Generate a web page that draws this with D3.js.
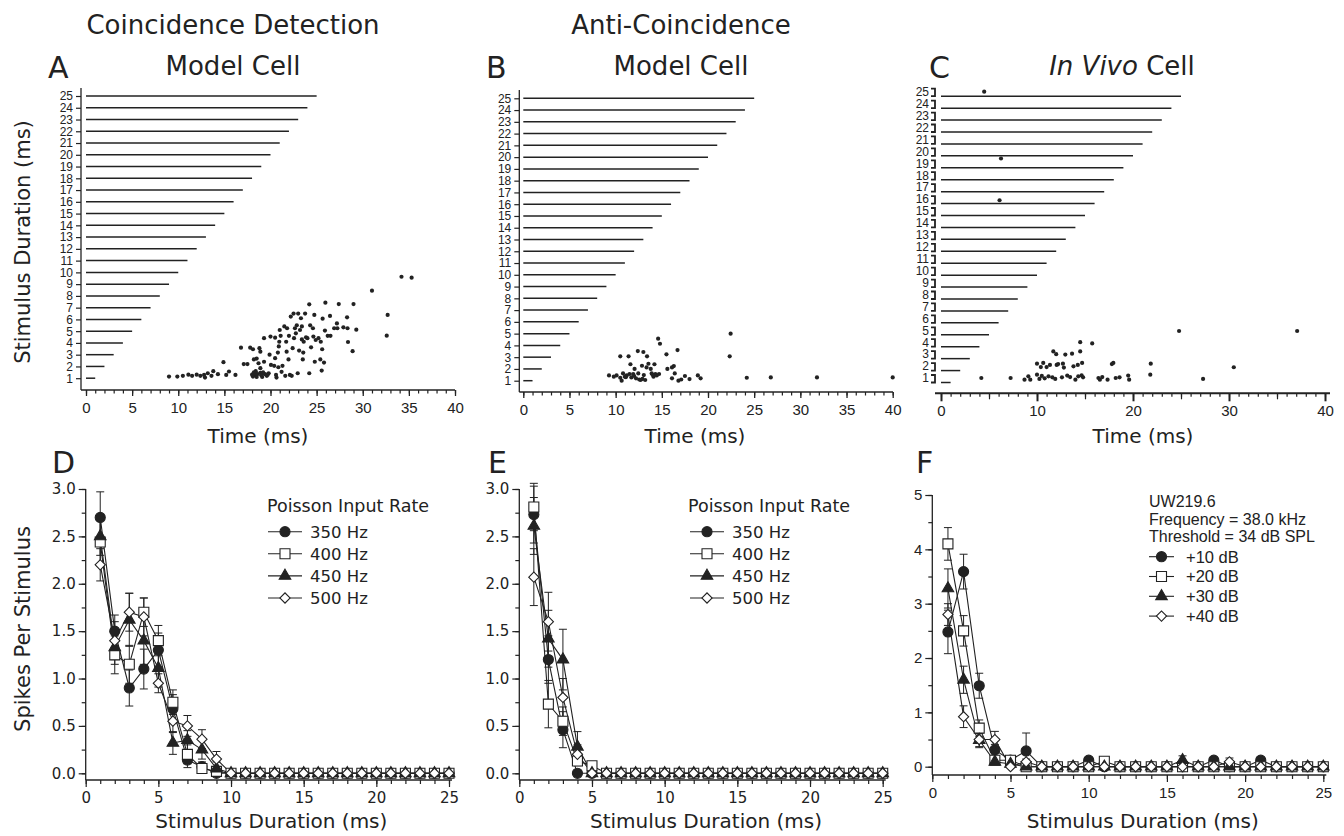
<!DOCTYPE html>
<html>
<head>
<meta charset="utf-8">
<script src="https://cdn.jsdelivr.net/npm/d3@7"></script>
<style>
  body { margin: 0; background: #fff; }
  svg { display: block; }
</style>
</head>
<body>
<div id="chart"></div>
<script>
const INK = "#222";
const W = 1344, H = 836;

// stimulus durations (ms), one raster row each
const durations = d3.range(1, 26);
const durTicks = [0, 5, 10, 15, 20, 25];

// raster spikes: [time ms, row]
const dotsA = [
  [9.0,1.14],[9.9,1.14],[10.5,1.2],[11.1,1.3],[11.5,1.2],[12.0,1.3],[12.4,1.2],[12.8,1.28],[12.9,1.05],[13.2,1.42],
  [13.6,1.2],[13.8,1.6],[14.3,1.34],[14.9,2.36],[15.2,1.28],[15.5,1.57],[16.2,1.28],[16.8,3.6],[17.1,2.2],[17.5,2.2],
  [17.8,3.6],[18.1,3.46],[18.2,1.5],[18.4,1.26],[18.1,1.14],[18.5,1.1],[18.2,2.6],[18.5,2.67],[18.7,2.27],[18.8,3.55],
  [18.9,3.26],[18.9,1.85],[19.1,1.1],[19.3,2.4],[19.3,4.4],[19.4,1.34],[19.6,1.2],[19.8,1.42],[19.9,3.0],[20.0,4.54],
  [20.05,2.13],[20.4,2.05],[20.5,2.7],[20.5,4.45],[20.6,1.28],[20.65,1.05],[20.8,3.18],[20.85,1.93],[20.9,3.7],[20.95,4.1],
  [21.0,5.1],[21.1,4.6],[21.2,1.54],[21.3,2.05],[21.5,5.4],[21.6,1.2],[21.7,4.1],[21.75,3.26],[21.8,5.25],[21.95,2.6],
  [22.0,4.6],[22.1,1.28],[22.2,6.24],[22.3,1.2],[22.4,3.55],[22.5,6.5],[22.55,4.4],[22.65,5.25],[22.75,4.82],[22.85,5.5],
  [22.95,1.42],[23.0,6.5],[23.1,3.35],[23.2,5.1],[23.3,6.1],[23.4,4.3],[23.4,5.4],[23.5,2.6],[23.55,3.18],[23.6,4.1],
  [23.75,6.5],[23.85,4.48],[24.0,4.4],[24.2,7.28],[24.2,1.42],[24.3,5.5],[24.4,3.63],[24.6,5.25],[24.65,4.54],[24.75,6.38],
  [24.8,2.4],[24.9,4.25],[25.2,4.4],[25.4,2.6],[25.45,4.1],[25.55,1.65],[25.6,3.46],[25.65,6.06],[25.8,2.33],[25.9,5.05],
  [25.95,7.42],[26.2,4.6],[26.45,6.3],[26.5,4.6],[26.9,5.25],[27.2,5.66],[27.25,5.25],[27.4,7.3],[27.9,5.33],[28.3,6.18],
  [28.35,5.25],[28.4,4.08],[28.9,3.3],[29.0,7.3],[29.3,5.13],[31.0,8.44],[32.6,4.62],[32.7,6.38],[34.2,9.63],[35.3,9.55],
  [18.3,1.4],[18.6,1.35],[18.9,1.45],[19.2,1.5],[18.4,1.6],[19.0,1.25],[19.7,1.3],[18.0,1.3]
];
const dotsB = [
  [9.28,1.45],[9.8,1.34],[10.1,1.45],[10.5,3.07],[10.5,1.25],[10.65,1.0],[10.8,1.62],[11.0,1.34],[11.2,1.45],[11.4,3.07],
  [11.5,1.57],[11.6,2.4],[11.7,1.28],[11.9,1.57],[12.05,2.0],[12.2,1.2],[12.4,3.52],[12.45,1.62],[12.55,1.1],[12.7,1.06],
  [12.85,2.27],[13.0,3.44],[13.05,1.48],[13.2,1.06],[13.4,3.07],[13.35,2.13],[13.55,2.44],[13.8,2.0],[13.9,1.62],[14.1,1.34],
  [14.2,2.4],[14.3,1.57],[14.45,1.45],[14.6,4.57],[14.7,1.57],[14.8,4.14],[15.5,3.24],[15.6,2.0],[16.1,2.13],[16.1,1.2],
  [16.3,2.24],[16.4,1.62],[16.7,3.6],[16.8,1.0],[17.1,1.1],[17.5,1.4],[18.0,1.14],[18.9,1.45],[19.2,1.2],[22.35,3.07],
  [22.45,5.0],[24.2,1.25],[26.8,1.28],[31.8,1.28],[40.0,1.28],
  [11.1,1.3],[12.0,1.4],[12.9,1.15],[14.0,1.5]
];
const dotsC = [
  [4.5,25.0],[6.25,19.4],[6.1,15.9],[4.2,1.0],[7.25,1.0],[8.7,0.86],[9.1,1.14],[9.3,0.86],[10.0,1.28],[10.0,2.2],
  [10.25,0.92],[10.4,1.92],[10.5,1.17],[10.65,2.26],[10.8,0.97],[11.0,1.92],[11.2,1.14],[11.35,2.1],[11.6,1.06],[11.7,3.23],
  [11.9,0.92],[12.0,3.0],[12.05,2.1],[12.2,2.17],[12.6,1.06],[12.7,2.2],[12.8,1.87],[12.95,2.96],[13.15,1.2],[13.45,1.08],
  [13.65,3.04],[13.8,1.98],[14.0,0.86],[14.25,2.1],[14.3,1.14],[14.5,4.0],[14.5,3.23],[14.65,1.22],[14.7,2.26],[14.8,1.06],
  [15.75,3.9],[16.4,1.0],[16.55,0.86],[16.8,1.08],[17.35,0.86],[17.8,2.17],[17.95,2.26],[18.2,1.0],[18.6,1.06],[19.5,1.2],
  [19.6,0.86],[21.85,2.2],[21.8,1.28],[24.8,4.94],[27.3,0.92],[30.5,1.9],[37.1,4.94]
];

// spikes per stimulus, durations 1..25 ms
const d350 = [2.70,1.50,0.90,1.10,1.30,0.68,0.14,0.07,0,0,0,0,0,0,0,0,0,0,0,0,0,0,0,0,0];
const d400 = [2.44,1.25,1.15,1.70,1.40,0.75,0.20,0.05,0.02,0,0,0,0,0,0,0,0,0,0,0,0,0,0,0,0];
const d450 = [2.50,1.33,1.62,1.40,1.11,0.32,0.35,0.25,0.05,0,0,0,0,0,0,0,0,0,0,0,0,0,0,0,0];
const d500 = [2.20,1.40,1.70,1.65,0.95,0.55,0.50,0.36,0.15,0,0,0,0,0,0,0,0,0,0,0,0,0,0,0,0];
const d350Err = [0.27,0.17,0.19,0.21,0.18,0.15,0.08,0.05];
const d400Err = [0.25,0.20,0.20,0.15,0.16,0.13,0.10,0.05,0.03];
const d450Err = [0.20,0.18,0.28,0.25,0.20,0.12,0.10,0.10,0.07];
const d500Err = [0.17,0.20,0.20,0.20,0.10,0.12,0.11,0.10,0.08];

const e350 = [2.73,1.20,0.46,0,0,0,0,0,0,0,0,0,0,0,0,0,0,0,0,0,0,0,0,0,0];
const e400 = [2.81,0.73,0.55,0.13,0.08,0,0,0,0,0,0,0,0,0,0,0,0,0,0,0,0,0,0,0,0];
const e450 = [2.61,1.42,1.20,0.28,0,0,0,0,0,0,0,0,0,0,0,0,0,0,0,0,0,0,0,0,0];
const e500 = [2.07,1.60,0.80,0.20,0,0,0,0,0,0,0,0,0,0,0,0,0,0,0,0,0,0,0,0,0];
const e350Err = [0.30,0.25,0.19];
const e400Err = [0.25,0.25,0.15,0.05,0.02];
const e450Err = [0.30,0.30,0.32,0.16];
const e500Err = [0.30,0.31,0.20,0.10];

const f10 = [2.48,3.59,1.49,0.31,0.12,0.29,0,0,0,0.12,0,0,0,0,0,0,0,0.12,0,0,0.12,0,0,0,0];
const f20 = [4.10,2.50,0.71,0.12,0.12,0,0,0,0,0,0.10,0,0,0,0,0,0,0,0,0,0,0,0,0,0];
const f30 = [3.28,1.60,0.49,0.09,0.05,0,0,0,0,0,0,0,0,0,0,0.12,0,0,0,0,0,0,0,0,0];
const f40 = [2.80,0.92,0.50,0.50,0,0.09,0,0,0,0,0,0,0,0,0,0,0,0,0.09,0,0,0,0,0,0];
const f10Err = [0.40,0.32,0.23,0.10,0.05,0.33,0,0,0,0.05,0,0,0,0,0,0,0,0.05,0,0,0.05];
const f20Err = [0.30,0.28,0.15,0.05,0.08,0,0,0,0,0,0.05];
const f30Err = [0.36,0.25,0.12,0.05,0,0,0,0,0,0,0,0,0,0,0,0.08];
const f40Err = [0.20,0.20,0.15,0.15,0,0.05,0,0,0,0,0,0,0,0,0,0,0,0,0.07];

const rateLabels = ["350 Hz", "400 Hz", "450 Hz", "500 Hz"];
const levelLabels = ["+10 dB", "+20 dB", "+30 dB", "+40 dB"];
const cellInfo = ["UW219.6", "Frequency = 38.0 kHz", "Threshold = 34 dB SPL"];

const svg = d3.select("#chart").append("svg")
    .attr("width", W).attr("height", H)
    .style("background", "#fff");

const SANS = "'DejaVu Sans', Verdana, sans-serif";
const ARIAL = "'Liberation Sans', Arial, sans-serif";
const NARROW = "'Liberation Sans Narrow', 'Liberation Sans', Arial, sans-serif";

const text = (x, y, str, size, opts = {}) => svg.append("text")
    .attr("x", x).attr("y", y)
    .attr("font-family", opts.font || SANS)
    .attr("font-size", size)
    .attr("text-anchor", opts.anchor || "start")
    .attr("fill", INK)
    .attr("transform", opts.rotate ? `rotate(-90, ${x}, ${y})` : null)
    .text(str);

const hline = (x1, x2, y, w = 1.3) => svg.append("line")
    .attr("x1", x1).attr("x2", x2).attr("y1", y).attr("y2", y)
    .attr("stroke", INK).attr("stroke-width", w);
const vline = (x, y1, y2, w = 1.3) => svg.append("line")
    .attr("x1", x).attr("x2", x).attr("y1", y1).attr("y2", y2)
    .attr("stroke", INK).attr("stroke-width", w);

const styleAxis = (g, font, size) => {
    g.select(".domain").remove();
    g.selectAll("line").attr("stroke", INK).attr("stroke-width", 1.2);
    g.selectAll("text").attr("font-family", font).attr("font-size", size).attr("fill", INK);
};

// ---------- rasters ----------
function drawRaster(cfg, dots) {
    const x = d3.scaleLinear().domain([0, 40]).range(cfg.xr);
    const y = d3.scaleLinear().domain([1, 25]).range(cfg.yr);

    svg.append("g").selectAll("line").data(durations).join("line")
        .attr("x1", x(0)).attr("x2", d => x(d))
        .attr("y1", d => y(d) + cfg.barOff).attr("y2", d => y(d) + cfg.barOff)
        .attr("stroke", INK).attr("stroke-width", 1.5);

    svg.append("g").selectAll("circle").data(dots).join("circle")
        .attr("cx", d => x(d[0])).attr("cy", d => y(d[1]))
        .attr("r", 2.1).attr("fill", INK);

    // x axis
    hline(cfg.axisX0, cfg.axisX1, cfg.axisY, cfg.axisW);
    svg.append("g").attr("transform", `translate(0,${cfg.axisY})`)
        .call(d3.axisBottom(x).tickValues(d3.range(0, 41)).tickSize(3.5).tickFormat(""))
        .call(g => styleAxis(g, ARIAL, 15));
    if (cfg.midTicks) {
        svg.append("g").attr("transform", `translate(0,${cfg.axisY})`)
            .call(d3.axisBottom(x).tickValues([5, 15, 25, 35]).tickSize(6).tickFormat(""))
            .call(g => styleAxis(g, ARIAL, 15));
    }
    svg.append("g").attr("transform", `translate(0,${cfg.axisY})`)
        .call(d3.axisBottom(x).tickValues(cfg.xLabels).tickSize(cfg.majorLen).tickPadding(cfg.labelPad))
        .call(g => styleAxis(g, ARIAL, 15))
        .call(g => g.selectAll("line").attr("stroke-width", cfg.axisW));

    // y axis
    if (cfg.bracket) {
        svg.append("g").selectAll("path").data(durations).join("path")
            .attr("d", d => `M${cfg.yAxisX - 4},${y(d) - 3} H${cfg.yAxisX} V${y(d) + 4.5} H${cfg.yAxisX - 4}`)
            .attr("fill", "none").attr("stroke", INK).attr("stroke-width", 1.8);
        svg.append("g").attr("transform", `translate(${cfg.yAxisX - 2},0)`)
            .call(d3.axisLeft(y).tickValues(durations).tickSize(0).tickPadding(4))
            .call(g => styleAxis(g, NARROW, 12));
    } else {
        vline(cfg.yAxisX, cfg.yTop, cfg.axisY);
        svg.append("g").attr("transform", `translate(${cfg.yAxisX},0)`)
            .call(d3.axisLeft(y).tickValues(durations).tickSize(5).tickPadding(3))
            .call(g => styleAxis(g, NARROW, 12));
    }

    text(cfg.titleX, 443, "Time (ms)", 20, { anchor: "middle" });
}

drawRaster({ xr: [86, 455], yr: [378.2, 96], barOff: 0, axisX0: 81, axisX1: 455, axisY: 390, axisW: 1.3,
             yAxisX: 81, yTop: 88, xLabels: d3.range(0, 41, 5), majorLen: 6, labelPad: 6, titleX: 258 }, dotsA);
drawRaster({ xr: [523.3, 892.7], yr: [380.7, 98.3], barOff: 0, axisX0: 519.3, axisX1: 893, axisY: 392, axisW: 1.3,
             yAxisX: 519.3, yTop: 90, xLabels: d3.range(0, 41, 5), majorLen: 6, labelPad: 6, titleX: 695 }, dotsB);
drawRaster({ xr: [941, 1325], yr: [378, 91.7], barOff: 4.5, axisX0: 935, axisX1: 1330, axisY: 393.3, axisW: 2,
             yAxisX: 935, bracket: true, midTicks: true, xLabels: [0, 10, 20, 30, 40], majorLen: 8, labelPad: 4,
             titleX: 1143 }, dotsC);

// ---------- duration tuning curves ----------
const SYMBOLS = [
    { type: d3.symbolCircle, size: 80, fill: INK, rot: 0 },
    { type: d3.symbolSquare, size: 100, fill: "#fff", rot: 0 },
    { type: d3.symbolTriangle, size: 58, fill: INK, rot: 0 },
    { type: d3.symbolSquare, size: 52, fill: "#fff", rot: 45 }
];

const marker = (g, k, cx, cy) => g.append("path")
    .attr("d", d3.symbol().type(SYMBOLS[k].type).size(SYMBOLS[k].size)())
    .attr("transform", `translate(${cx},${cy}) rotate(${SYMBOLS[k].rot})`)
    .attr("fill", SYMBOLS[k].fill).attr("stroke", INK).attr("stroke-width", 1.1);

function drawCurves(cfg, series, errors) {
    const x = d3.scaleLinear().domain([0, 25]).range(cfg.xr);
    const y = d3.scaleLinear().domain([0, cfg.yMax]).range(cfg.yr);
    const g = svg.append("g");

    // axes
    vline(cfg.xr[0], cfg.yr[1], cfg.axisY);
    hline(cfg.xr[0], cfg.xr[1] + 3, cfg.axisY);
    svg.append("g").attr("transform", `translate(0,${cfg.axisY})`)
        .call(d3.axisBottom(x).tickValues(d3.range(0, 26)).tickSize(4).tickFormat(""))
        .call(a => styleAxis(a, cfg.tickFont, 15));
    svg.append("g").attr("transform", `translate(0,${cfg.axisY})`)
        .call(d3.axisBottom(x).tickValues(durTicks).tickSize(7).tickPadding(5))
        .call(a => styleAxis(a, cfg.tickFont, 15));
    svg.append("g").attr("transform", `translate(${cfg.xr[0]},0)`)
        .call(d3.axisLeft(y).tickValues(cfg.yMinor).tickSize(4).tickFormat(""))
        .call(a => styleAxis(a, cfg.tickFont, 15));
    svg.append("g").attr("transform", `translate(${cfg.xr[0]},0)`)
        .call(d3.axisLeft(y).tickValues(cfg.yMajor).tickSize(7).tickPadding(3).tickFormat(cfg.fmt))
        .call(a => styleAxis(a, cfg.tickFont, 15));

    // error bars and lines
    series.forEach((vals, k) => {
        const err = errors[k];
        err.forEach((e, i) => {
            if (!e) return;
            const cx = x(i + 1), lo = y(vals[i] - e), hi = y(vals[i] + e);
            g.append("line").attr("x1", cx).attr("x2", cx).attr("y1", lo).attr("y2", hi)
                .attr("stroke", INK).attr("stroke-width", 1);
            [lo, hi].forEach(v => g.append("line").attr("x1", cx - 4).attr("x2", cx + 4)
                .attr("y1", v).attr("y2", v).attr("stroke", INK).attr("stroke-width", 1));
        });
        g.append("path")
            .datum(vals)
            .attr("d", d3.line().x((d, i) => x(i + 1)).y(d => y(d)))
            .attr("fill", "none").attr("stroke", INK).attr("stroke-width", 1.1);
    });
    series.forEach((vals, k) => vals.forEach((v, i) => marker(g, k, x(i + 1), y(v))));

    text((cfg.xr[0] + cfg.xr[1]) / 2 + cfg.titleShift, 828, "Stimulus Duration (ms)", 20, { anchor: "middle" });
}

let cfgLegend = { len: 34, gap: 8 };
function drawLegend(x0, y0, labels, font, size, step) {
    const g = svg.append("g");
    labels.forEach((lab, k) => {
        const yy = y0 + k * step;
        g.append("line").attr("x1", x0).attr("x2", x0 + cfgLegend.len).attr("y1", yy).attr("y2", yy)
            .attr("stroke", INK).attr("stroke-width", 1.1);
        marker(g, k, x0 + cfgLegend.len / 2, yy);
        g.append("text").attr("x", x0 + cfgLegend.len + cfgLegend.gap).attr("y", yy + size * 0.36)
            .attr("font-family", font).attr("font-size", size).attr("fill", INK).text(lab);
    });
}

const fmt1 = d3.format(".1f");
drawCurves({ xr: [85.7, 449], yr: [773.3, 489], yMax: 3, axisY: 780, yMajor: d3.range(0, 3.01, 0.5),
             yMinor: d3.range(0, 3.01, 0.25), fmt: fmt1, tickFont: SANS, titleShift: 4 },
           [d350, d400, d450, d500], [d350Err, d400Err, d450Err, d500Err]);
drawCurves({ xr: [519.3, 882.7], yr: [773.3, 489], yMax: 3, axisY: 780, yMajor: d3.range(0, 3.01, 0.5),
             yMinor: d3.range(0, 3.01, 0.25), fmt: fmt1, tickFont: SANS, titleShift: 5 },
           [e350, e400, e450, e500], [e350Err, e400Err, e450Err, e500Err]);
drawCurves({ xr: [932.3, 1323.3], yr: [766.7, 495], yMax: 5, axisY: 775, yMajor: d3.range(0, 6),
             yMinor: d3.range(0, 5.01, 0.5), fmt: d3.format("d"), tickFont: ARIAL, titleShift: 15 },
           [f10, f20, f30, f40], [f10Err, f20Err, f30Err, f40Err]);

// legends
text(267, 512, "Poisson Input Rate", 17.5);
drawLegend(268, 531.7, rateLabels, SANS, 16.5, 22.1);
text(688, 512, "Poisson Input Rate", 17.5);
drawLegend(690, 531.7, rateLabels, SANS, 16.5, 22.1);
cellInfo.forEach((s, i) => text(1149, 507 + i * 17.7, s, 16, { font: ARIAL }));
cfgLegend = { len: 25, gap: 12 };
drawLegend(1149, 556.7, levelLabels, ARIAL, 16.5, 19.8);

// ---------- titles, panel letters, shared y titles ----------
text(233, 34, "Coincidence Detection", 26, { anchor: "middle" });
text(233, 75, "Model Cell", 26, { anchor: "middle" });
text(681, 34, "Anti-Coincidence", 26, { anchor: "middle" });
text(681, 75, "Model Cell", 26, { anchor: "middle" });
const vivo = text(1122, 75, "", 26, { anchor: "middle" });
vivo.append("tspan").attr("font-style", "italic").text("In Vivo");
vivo.append("tspan").text(" Cell");

[["A", 48, 78], ["B", 486, 78], ["C", 929, 78], ["D", 52, 473], ["E", 488, 473], ["F", 916, 473]]
    .forEach(([s, x, y]) => text(x, y, s, 30));

text(30, 242, "Stimulus Duration (ms)", 21, { anchor: "middle", rotate: true });
text(30, 629, "Spikes Per Stimulus", 21, { anchor: "middle", rotate: true });
</script>
</body>
</html>
